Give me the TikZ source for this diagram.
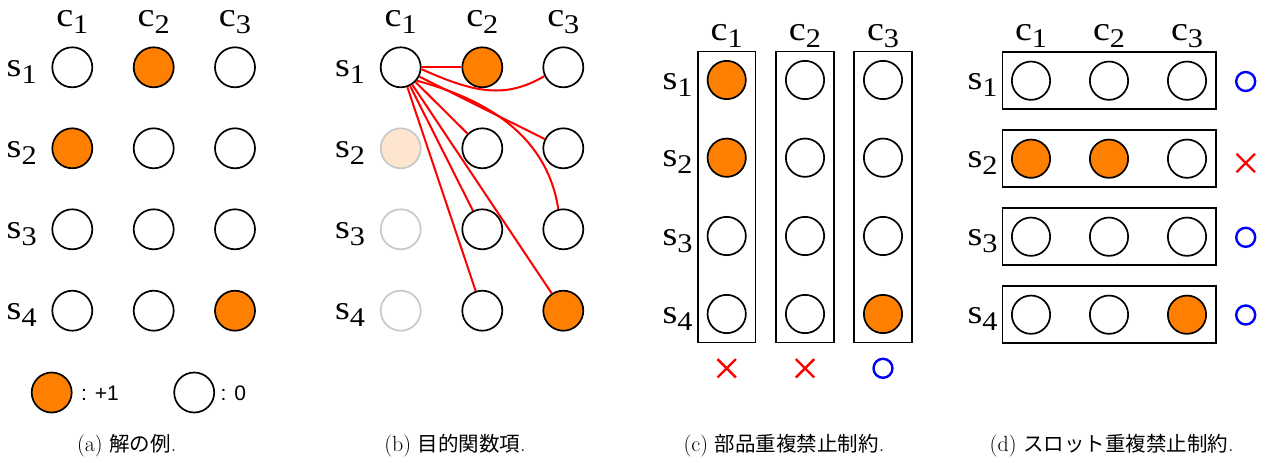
\documentclass[tikz,border=0pt]{standalone}
\usepackage{fontspec}
\newfontfamily\tms{Liberation Serif}
\newfontfamily\hlv{Liberation Sans}
\newfontfamily\jp{Noto Sans CJK JP}
\usetikzlibrary{shapes.misc}
\definecolor{org}{RGB}{255,128,0}
\definecolor{fadeorg}{RGB}{253,229,207}
\definecolor{fadegray}{RGB}{200,200,200}
\newcommand\lb[2]{{\tms\fontsize{34}{34}\selectfont\scalebox{1.12}[1]{#1\raisebox{-7pt}{\fontsize{27}{27}\selectfont #2}}}}
\newcommand\capt[2]{{\fontsize{22}{22}\selectfont(#1)~{\jp\fontsize{20.5}{20.5}\selectfont #2}.}}
\begin{document}
\begin{tikzpicture}[x=1pt,y=-1pt,
  dot/.style={circle,draw=black,line width=1.7pt,fill=white,minimum size=40pt,inner sep=0pt},
  sdot/.style={dot,minimum size=38.3pt},
  off/.style={},
  on/.style={fill=org},
  faintorg/.style={fill=fadeorg,draw=fadegray},
  faint/.style={draw=fadegray},
  lab/.style={anchor=base,inner sep=0pt},
  grp/.style={draw=black,line width=1.8pt},
  link/.style={draw=red,line width=2pt},
  ng/.style={cross out,draw=red,line width=2.4pt,minimum size=16pt,inner sep=0pt},
  ok/.style={circle,draw=blue,line width=2.4pt,minimum size=19pt,inner sep=0pt},
  captext/.style={anchor=base,inner sep=0pt},
  legtext/.style={anchor=base west,inner sep=0pt,font=\hlv\fontsize{21}{21}\selectfont}]
\useasboundingbox (0,0) rectangle (1266,463);

% ---------- (a) ----------
\foreach \r/\y/\p/\q/\w in {1/67.3/off/on/off,2/148.3/on/off/off,3/229.3/off/off/off,4/310.7/off/off/on}{
  \node[dot,\p] (a\r1) at (72.3,\y) {};
  \node[dot,\q] (a\r2) at (153.7,\y) {};
  \node[dot,\w] (a\r3) at (235,\y) {};
  \node[lab] (as\r) at (21.7,\y+9) {\lb{s}{\r}};
}
\foreach \c/\x in {1/72.3,2/153.7,3/235}{
  \node[lab] (ac\c) at (\x,26) {\lb{c}{\c}};
}
\node[dot,on] (lg1) at (51.7,392.5) {};
\node[legtext] (lt1) at (81,400) {: +1};
\node[dot] (lg0) at (194.2,392.5) {};
\node[legtext] (lt0) at (220.5,400) {: 0};
\node[captext] (capa) at (126.7,451) {\capt{a}{解の例}};

% ---------- (b) ----------
\foreach \r/\y/\p/\q/\w in {1/67.3/off/on/off,2/148.3/faintorg/off/off,3/229.3/faint/off/off,4/310.7/faint/off/on}{
  \node[dot,\p] (b\r1) at (400.7,\y) {};
  \node[dot,\q] (b\r2) at (482.3,\y) {};
  \node[dot,\w] (b\r3) at (563.3,\y) {};
  \node[lab] (bs\r) at (350,\y+9) {\lb{s}{\r}};
}
\foreach \c/\x in {1/400.7,2/482.3,3/563.3}{
  \node[lab] (bc\c) at (\x,26) {\lb{c}{\c}};
}
\draw[link] (b11.east) -- (b12.west);
\draw[link] (b11.-5) .. controls (476,93.7) and (506,98.5) .. (b13.205);
\draw[link] (b11) -- (b22);
\draw[link] (b11) -- (b23);
\draw[link] (b11) -- (b32);
\draw[link] (b11.-40) .. controls (493.5,101) and (547.9,140.4) .. (b33.104);
\draw[link] (b11) -- (b42);
\draw[link] (b11) -- (b43);
\node[captext] (capb) at (455,451) {\capt{b}{目的関数項}};

% ---------- (c) ----------
\foreach \x in {726.7,805,883}{
  \draw[grp] (\x-28.7,51.5) rectangle (\x+28.7,342.5);
}
\foreach \r/\y/\p/\q/\w in {1/80/on/off/off,2/157.7/on/off/off,3/236/off/off/off,4/314/off/off/on}{
  \node[sdot,\p] (c\r1) at (726.7,\y) {};
  \node[sdot,\q] (c\r2) at (805,\y) {};
  \node[sdot,\w] (c\r3) at (883,\y) {};
  \node[lab] (cs\r) at (677.5,\y+9) {\lb{s}{\r}};
}
\foreach \c/\x in {1/726.7,2/805,3/883}{
  \node[lab] (cc\c) at (\x,40) {\lb{c}{\c}};
}
\node[ng] (cm1) at (726.7,368.3) {};
\node[ng] (cm2) at (805,368.3) {};
\node[ok] (cm3) at (883,368.3) {};
\node[captext] (capc) at (784,451) {\capt{c}{部品重複禁止制約}};

% ---------- (d) ----------
\foreach \y in {80.7,158.7,236.7,314.7}{
  \draw[grp] (1002.5,\y-28.6) rectangle (1216,\y+28.6);
}
\foreach \r/\y/\p/\q/\w in {1/80.7/off/off/off,2/158.7/on/on/off,3/236.7/off/off/off,4/314.7/off/off/on}{
  \node[sdot,\p] (d\r1) at (1031,\y) {};
  \node[sdot,\q] (d\r2) at (1109,\y) {};
  \node[sdot,\w] (d\r3) at (1187,\y) {};
  \node[lab] (ds\r) at (982.5,\y+9) {\lb{s}{\r}};
}
\foreach \c/\x in {1/1031,2/1109,3/1187}{
  \node[lab] (dc\c) at (\x,40) {\lb{c}{\c}};
}
\node[ok] (dm1) at (1245.7,81.5) {};
\node[ng] (dm2) at (1245.7,163) {};
\node[ok] (dm3) at (1245.7,237.3) {};
\node[ok] (dm4) at (1245.7,315) {};
\node[captext] (capd) at (1111.7,451) {\capt{d}{スロット重複禁止制約}};
\end{tikzpicture}
\end{document}
